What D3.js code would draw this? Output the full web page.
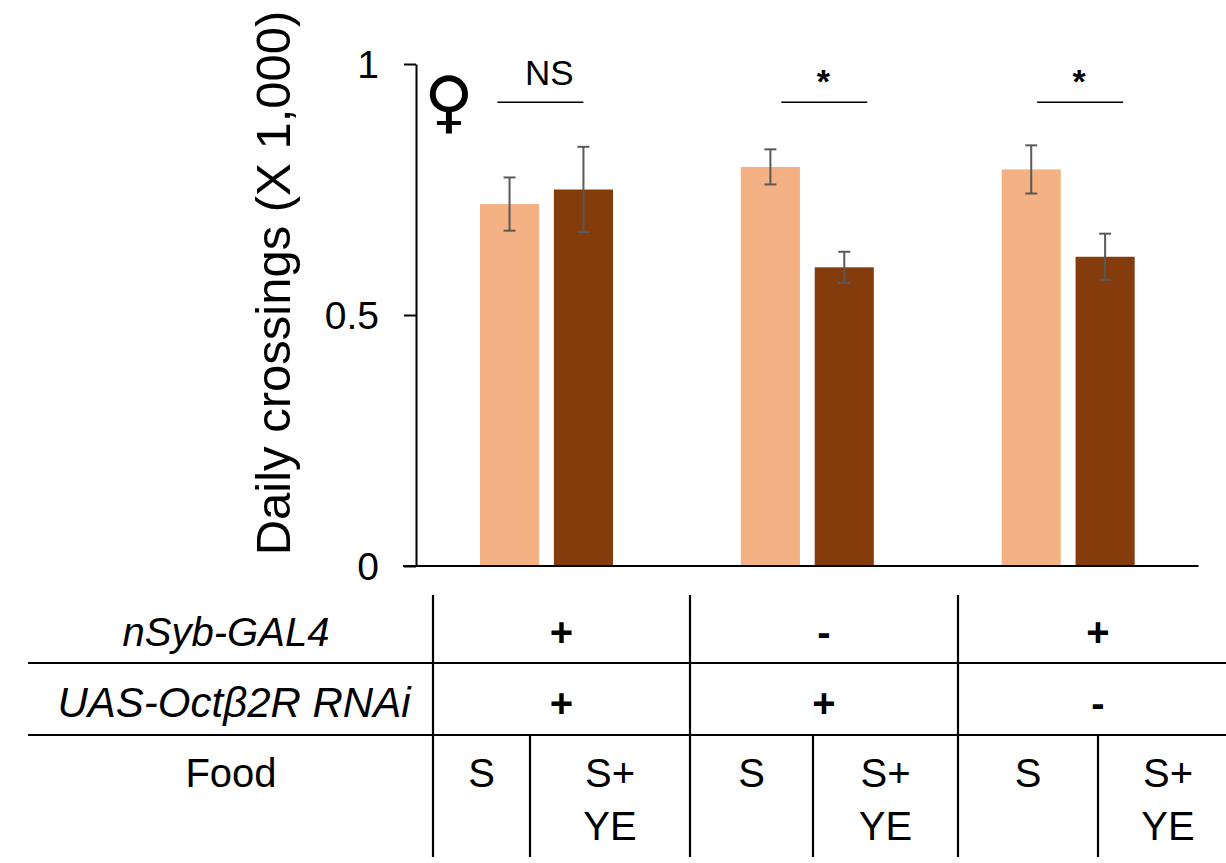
<!DOCTYPE html>
<html>
<head>
<meta charset="utf-8">
<script src="https://cdn.jsdelivr.net/npm/d3@7"></script>
<style>
  body { margin: 0; background: #fff; }
  text { font-family: "Liberation Sans", Arial, sans-serif; fill: #000; }
</style>
</head>
<body>
<div id="chart"></div>
<script>
// donnees
const groups = ["nSyb>RNAi", "RNAi/+", "nSyb/+"];
const foods = ["S", "S+YE"];
const meanS = [0.721, 0.795, 0.790];
const meanSYE = [0.750, 0.595, 0.616];
const errS = [0.053, 0.035, 0.048];
const errSYE = [0.085, 0.031, 0.046];
const sigLabels = ["NS", "*", "*"];
const nSybRow = ["+", "-", "+"];
const uasRow = ["+", "+", "-"];
const yTicks = [0, 0.5, 1];
const yTickLabels = ["0", "0.5", "1"];

// mise en page (pas des donnees)
const W = 1226, H = 863;
const colors = {"S": "#F4B183", "S+YE": "#843C0C"};
const sigShift = [-6, 17, 12];
const tableCols = [433, 530, 690, 813, 958, 1098, 1238];

const svg = d3.select("#chart").append("svg")
    .attr("width", W).attr("height", H);

// echelles
const y = d3.scaleLinear().domain([0, 1]).range([566, 64]);
const x = d3.scaleBand().domain(groups).range([416, 1198.5]).padding(0);
const xIn = d3.scaleBand().domain(foods).range([64, 197]).paddingInner(0.2).paddingOuter(0);

const rows = [];
groups.forEach((g, i) => {
  rows.push({g: g, food: "S", v: meanS[i], e: errS[i]});
  rows.push({g: g, food: "S+YE", v: meanSYE[i], e: errSYE[i]});
});

// barres
svg.append("g").selectAll("rect")
  .data(rows)
  .join("rect")
  .attr("x", d => x(d.g) + xIn(d.food))
  .attr("y", d => y(d.v))
  .attr("width", xIn.bandwidth())
  .attr("height", d => y(0) - y(d.v))
  .style("fill", d => colors[d.food]);

// barres d'erreur
const eb = svg.append("g").attr("stroke", "#595959").attr("stroke-width", 2);
rows.forEach(d => {
  const cx = x(d.g) + xIn(d.food) + xIn.bandwidth() / 2;
  eb.append("line").attr("x1", cx).attr("x2", cx).attr("y1", y(d.v + d.e)).attr("y2", y(d.v - d.e));
  eb.append("line").attr("x1", cx - 6).attr("x2", cx + 6).attr("y1", y(d.v + d.e)).attr("y2", y(d.v + d.e));
  eb.append("line").attr("x1", cx - 6).attr("x2", cx + 6).attr("y1", y(d.v - d.e)).attr("y2", y(d.v - d.e));
});

// axe Y
const yAxis = svg.append("g")
  .attr("transform", `translate(${x.range()[0]},0)`)
  .call(d3.axisLeft(y).tickValues(yTicks).tickFormat((d, i) => yTickLabels[i])
        .tickSize(12).tickSizeOuter(0).tickPadding(25));
yAxis.selectAll("path, line").attr("stroke", "#000").attr("stroke-width", 2);
yAxis.selectAll("text").style("font-size", "39px").attr("dy", "0.35em");

// ligne de base
svg.append("line")
  .attr("x1", x.range()[0] - 13).attr("x2", x.range()[1])
  .attr("y1", y(0)).attr("y2", y(0))
  .attr("stroke", "#000").attr("stroke-width", 2);

// titre axe Y
svg.append("text")
  .attr("transform", `translate(290, 283) rotate(-90)`)
  .attr("text-anchor", "middle")
  .style("font-size", "49px")
  .text("Daily crossings (X 1,000)");

// symbole femelle
svg.append("text")
  .attr("x", 449).attr("y", 125)
  .attr("text-anchor", "middle")
  .style("font-family", "DejaVu Sans")
  .style("font-weight", "bold")
  .style("font-size", "68px")
  .text("\u2640");

// significativite
const sigY = 0.924;
groups.forEach((g, i) => {
  const cx = x(g) + x.bandwidth() / 2 + sigShift[i];
  const ns = sigLabels[i] === "NS";
  svg.append("line")
    .attr("x1", cx - 43).attr("x2", cx + 43)
    .attr("y1", y(sigY)).attr("y2", y(sigY))
    .attr("stroke", "#000").attr("stroke-width", 1.5);
  svg.append("text")
    .attr("x", ns ? cx + 9 : cx - 1)
    .attr("y", ns ? y(sigY) - 17 : y(sigY) - 9)
    .attr("text-anchor", "middle")
    .style("font-size", ns ? "35px" : "34px")
    .style("font-weight", ns ? "normal" : "bold")
    .text(sigLabels[i]);
});

// tableau sous le graphique
const tb = svg.append("g").attr("stroke", "#000").attr("stroke-width", 2.2);
[663, 735].forEach(yy => tb.append("line").attr("x1", 28).attr("x2", W).attr("y1", yy).attr("y2", yy));
[0, 2, 4].forEach(k => tb.append("line").attr("x1", tableCols[k]).attr("x2", tableCols[k]).attr("y1", 595).attr("y2", 857));
[1, 3, 5].forEach(k => tb.append("line").attr("x1", tableCols[k]).attr("x2", tableCols[k]).attr("y1", 735).attr("y2", 857));

const headX = 230;
svg.append("text").attr("x", headX - 4).attr("y", 646).attr("text-anchor", "middle")
  .style("font-size", "40px").style("font-style", "italic").text("nSyb-GAL4");
svg.append("text").attr("x", headX + 4).attr("y", 717).attr("text-anchor", "middle")
  .style("font-size", "42px").style("font-style", "italic").text("UAS-Oct\u03B22R RNAi");
svg.append("text").attr("x", headX + 1).attr("y", 787).attr("text-anchor", "middle")
  .style("font-size", "40px").text("Food");

groups.forEach((g, i) => {
  const c0 = tableCols[2 * i], c1 = tableCols[2 * i + 1], c2 = tableCols[2 * i + 2];
  const gc = (c0 + c2) / 2;
  svg.append("text").attr("x", gc).attr("y", 646).attr("text-anchor", "middle")
    .style("font-size", "40px").style("font-weight", "bold").text(nSybRow[i]);
  svg.append("text").attr("x", gc).attr("y", 717).attr("text-anchor", "middle")
    .style("font-size", "40px").style("font-weight", "bold").text(uasRow[i]);
  svg.append("text").attr("x", (c0 + c1) / 2).attr("y", 787).attr("text-anchor", "middle")
    .style("font-size", "40px").text(foods[0]);
  const t = svg.append("text").attr("x", (c1 + c2) / 2).attr("y", 787).attr("text-anchor", "middle")
    .style("font-size", "40px");
  t.append("tspan").attr("x", (c1 + c2) / 2).text("S+");
  t.append("tspan").attr("x", (c1 + c2) / 2).attr("dy", 53).text("YE");
});
</script>
</body>
</html>
